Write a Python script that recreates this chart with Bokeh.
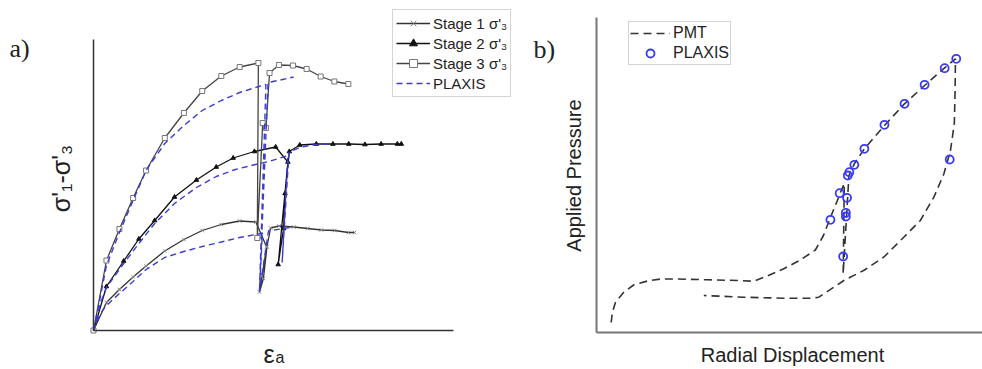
import math
from bokeh.plotting import figure
from bokeh.layouts import row
from bokeh.models import Legend, LegendItem, Label, Range1d, FixedTicker
from bokeh.embed import file_html
from bokeh.resources import INLINE

# ---------------- Panel a: multistage triaxial (strain %, deviator stress kPa)
s1_strain = [0, 0.36, 0.72, 1.10, 1.46, 1.98, 2.51, 3.02, 3.55, 4.06, 4.51, 4.81, 4.61, 4.72, 4.82,
             4.92, 5.15, 5.56, 5.95, 6.33, 6.70, 7.08, 7.25]
s1_stress = [0, 56, 82, 107, 129, 159, 182, 200, 212, 219, 217, 167, 77, 104, 168,
             205, 209, 207, 204, 201, 200, 196, 196]

s2_strain = [0, 0.36, 0.84, 1.26, 1.70, 2.25, 2.86, 3.41, 3.88, 4.47, 5.06, 5.40, 5.13, 5.28, 5.32,
             5.44, 5.73, 6.19, 6.65, 7.09, 7.54, 7.99, 8.44, 8.55]
s2_stress = [0, 88, 139, 183, 220, 267, 301, 327, 345, 358, 367, 337, 132, 204, 274,
             358, 371, 373, 373, 373, 372, 373, 373, 373]

s3_strain = [0, 0.36, 0.72, 1.10, 1.46, 1.98, 2.51, 3.02, 3.55, 4.06, 4.58, 4.55, 4.70, 4.79,
             4.89, 5.15, 5.54, 5.92, 6.31, 6.69, 7.08]
s3_stress = [0, 140, 203, 265, 320, 385, 435, 479, 509, 527, 535, 185, 415, 405,
             515, 531, 530, 523, 508, 498, 493]

pl_hi_strain = [0, 0.17, 0.36, 0.72, 1.10, 1.46, 1.98, 2.51, 3.02, 3.55, 4.06, 4.59, 4.79, 4.61,
                4.85, 5.19, 5.56]
pl_hi_stress = [0, 60, 130, 196, 260, 320, 374, 410, 440, 460, 476, 488, 492, 78,
                496, 501, 507]

pl_mid_strain = [0, 0.19, 0.36, 0.84, 1.26, 1.70, 2.25, 2.86, 3.41, 3.94, 4.50, 4.92, 5.40, 5.24,
                 5.43, 5.75, 6.19, 6.64]
pl_mid_stress = [0, 54, 86, 134, 174, 214, 254, 286, 308, 322, 332, 339, 350, 136,
                 356, 367, 372, 373]

pl_lo_strain = [0, 0.19, 0.36, 0.72, 1.10, 1.46, 1.98, 2.51, 3.02, 3.55, 4.06, 4.59, 4.69, 4.61,
                4.86, 5.19, 5.56]
pl_lo_stress = [0, 34, 50, 74, 98, 122, 146, 158, 168, 177, 186, 193, 195, 78,
                199, 203, 207]

# ---------------- Panel b: pressuremeter test (radial displacement mm, pressure kPa)
pmt_disp = [0.38, 0.41, 0.49, 0.70, 0.96, 1.32, 1.66, 2.10, 2.88, 3.65, 4.07, 4.43, 4.84, 5.28,
            5.67, 5.88, 6.06, 6.24, 6.32, 6.42, 6.39, 6.54, 6.68, 6.94, 7.46, 7.98, 8.50, 9.02,
            9.30, 9.29, 9.27, 9.17, 9.00, 8.74, 8.39, 7.96, 7.44, 6.92, 6.41, 5.76, 5.54, 4.84,
            3.81, 2.78]
pmt_pres = [100, 200, 300, 400, 475, 515, 535, 535, 527, 520, 513, 565, 635, 725,
            825, 970, 1150, 1320, 1400, 1490, 587, 1570, 1687, 1837, 2070, 2287, 2470, 2647,
            2737, 2420, 2090, 1820, 1587, 1353, 1120, 953, 753, 620, 520, 353, 343, 343,
            353, 370]

plx_disp = [9.32, 9.02, 8.50, 7.98, 7.46, 6.94, 6.68, 6.55, 6.51, 6.30, 6.49, 6.06, 6.46, 6.46,
            6.39, 9.15]
plx_pres = [2737, 2643, 2477, 2287, 2077, 1837, 1677, 1603, 1570, 1393, 1347, 1127, 1197, 1160,
            760, 1730]

FONT = "Liberation Sans"
SERIF = "Liberation Serif"
BLUE_A = "#3c3cd2"
BLUE_B = "#3a3aff"
TXT = "#222222"
H = 369


def style_axes(p, color, width, xb, yb):
    for ax in (p.xaxis[0], p.yaxis[0]):
        ax.ticker = FixedTicker(ticks=[])
        ax.major_tick_line_color = None
        ax.minor_tick_line_color = None
        ax.major_tick_out = 0
        ax.major_tick_in = 0
        ax.major_label_standoff = 0
        ax.major_label_text_font_size = "0px"
        ax.axis_line_color = color
        ax.axis_line_width = width
        ax.fixed_location = 0
    p.xaxis[0].bounds = xb
    p.yaxis[0].bounds = yb
    p.grid.visible = False
    p.outline_line_color = None


def label(p, x, y, text, size, font=FONT, angle=0, align="left", baseline="alphabetic"):
    p.add_layout(Label(x=x, y=y, x_units="screen", y_units="screen", text=text,
                       text_font=font, text_font_size=size, text_color=TXT,
                       angle=angle, text_align=align, text_baseline=baseline))


# ---------------- Figure a (frame covers whole figure; axes fixed at data zero)
pa = figure(width=515, height=H, output_backend="svg", toolbar_location=None,
            x_range=Range1d(-2.5833, 11.7222), y_range=Range1d(-78, 660),
            min_border=0, min_border_left=0, min_border_right=0,
            min_border_top=0, min_border_bottom=0)
style_axes(pa, "#333333", 1.5, (0, 10), (0, 582))

r1l = pa.line(s1_strain, s1_stress, line_color="#333333", line_width=1.3)
r1s = pa.scatter(s1_strain, s1_stress, marker="x", size=5, line_color="#8a8a8a", line_width=1)
r2l = pa.line(s2_strain, s2_stress, line_color="#111111", line_width=1.3)
r2s = pa.scatter(s2_strain, s2_stress, marker="triangle", size=4.5, line_color="#111111",
                 fill_color="#111111")
r3l = pa.line(s3_strain, s3_stress, line_color="#444444", line_width=1.3)
r3s = pa.scatter(s3_strain, s3_stress, marker="square", size=5, line_color="#777777",
                 fill_color="white", line_width=1)
rp1 = pa.line(pl_hi_strain, pl_hi_stress, line_color=BLUE_A, line_width=1.4, line_dash="6 4")
rp2 = pa.line(pl_mid_strain, pl_mid_stress, line_color=BLUE_A, line_width=1.4, line_dash="6 4")
rp3 = pa.line(pl_lo_strain, pl_lo_stress, line_color=BLUE_A, line_width=1.4, line_dash="6 4")

leg_a = Legend(items=[
    LegendItem(label="Stage 1 σ'₃", renderers=[r1l, r1s]),
    LegendItem(label="Stage 2 σ'₃", renderers=[r2l, r2s]),
    LegendItem(label="Stage 3 σ'₃", renderers=[r3l, r3s]),
    LegendItem(label="PLAXIS", renderers=[rp1]),
], location=(392, 272), padding=3, spacing=0, margin=0, glyph_width=34, glyph_height=20,
    label_height=20, label_standoff=3, label_text_font=FONT, label_text_font_size="15px",
    label_text_color=TXT, border_line_color="#aaaaaa", border_line_width=1,
    background_fill_color="white", background_fill_alpha=1)
pa.add_layout(leg_a)

label(pa, 9, H - 48, "a)", "26px", font=SERIF)
label(pa, 60, H - 178, "σ'₁-σ'₃", "25px", angle=math.pi / 2, align="center", baseline="middle")
label(pa, 263, H - 353, "ε", "25px")
label(pa, 275, H - 357, "a", "16px")

# ---------------- Figure b
pb = figure(width=467, height=H, output_backend="svg", toolbar_location=None,
            x_range=Range1d(-2.0984, 10.0), y_range=Range1d(-370, 3320),
            min_border=0, min_border_left=0, min_border_right=0,
            min_border_top=0, min_border_bottom=0)
style_axes(pb, "#777777", 2, (0, 10.0), (0, 3150))

rb1 = pb.line(pmt_disp, pmt_pres, line_color="#333333", line_width=1.6, line_dash="8 5")
rb2 = pb.scatter(plx_disp, plx_pres, marker="circle", size=8, line_color=BLUE_B,
                 fill_color=None, line_width=1.8)

leg_b = Legend(items=[
    LegendItem(label="PMT", renderers=[rb1]),
    LegendItem(label="PLAXIS", renderers=[rb2]),
], location=(113, H - 65), padding=1, spacing=0, margin=0, glyph_width=40, glyph_height=20,
    label_height=20, label_standoff=3, label_text_font=FONT, label_text_font_size="16px",
    label_text_color=TXT, border_line_color="#aaaaaa", border_line_width=1,
    background_fill_color="white", background_fill_alpha=1)
pb.add_layout(leg_b)

label(pb, 18, H - 49, "b)", "26px", font=SERIF)
label(pb, 58, H - 175, "Applied Pressure", "20px", angle=math.pi / 2, align="center",
      baseline="middle")
label(pb, 277, H - 354, "Radial Displacement", "20px", align="center", baseline="middle")

layout = row(pa, pb)
open("out.html", "w").write(file_html(layout, INLINE))
